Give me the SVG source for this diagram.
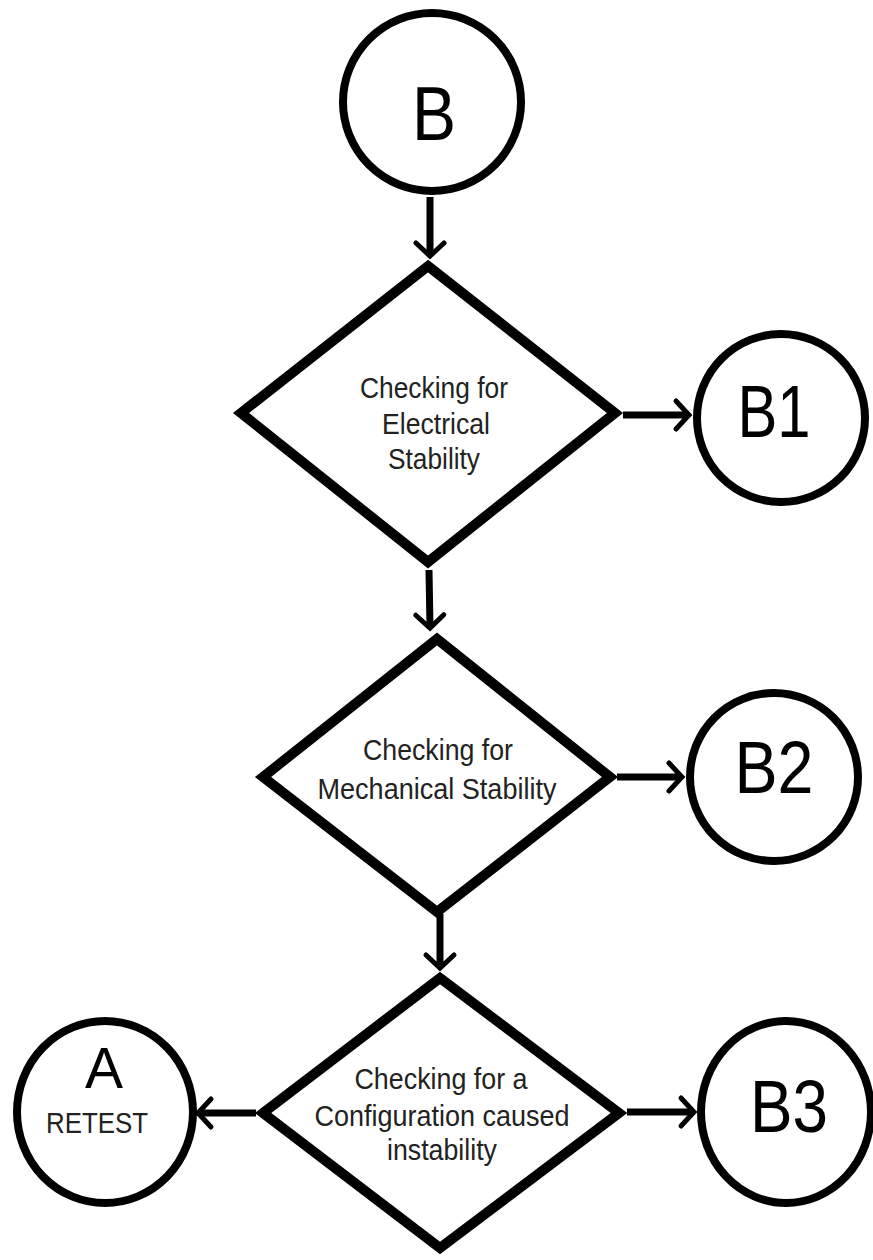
<svg xmlns="http://www.w3.org/2000/svg" width="873" height="1260" viewBox="0 0 873 1260">
  <style>
    .circ { fill: #ffffff; stroke: #000000; stroke-width: 8; }
    .dia { fill: #ffffff; stroke: #000000; stroke-width: 10; stroke-linejoin: miter; stroke-miterlimit: 10; }
    .big { font-family: "Liberation Sans", Arial, sans-serif; fill: #000000; text-anchor: middle; }
    .lbl { font-family: "Liberation Sans", Arial, sans-serif; font-size: 29px; fill: #222222; text-anchor: middle; }
    .conn { fill: none; stroke: #000000; stroke-width: 7; }
  </style>
  <defs>
    <marker id="arr" markerUnits="userSpaceOnUse" markerWidth="30" markerHeight="40" viewBox="-20 -20 30 40" refX="0" refY="0" orient="auto">
      <path d="M -13,-14 L 0,0 L -13,14" fill="none" stroke="#000000" stroke-width="5" stroke-linecap="round" stroke-linejoin="miter"/>
    </marker>
  </defs>
  <rect x="0" y="0" width="873" height="1260" fill="#ffffff"/>

  <g id="connectors">
    <line class="conn" x1="430" y1="197" x2="430" y2="256" marker-end="url(#arr)"/>
    <line class="conn" x1="429" y1="570" x2="430" y2="628" marker-end="url(#arr)"/>
    <line class="conn" x1="440" y1="914" x2="440" y2="968" marker-end="url(#arr)"/>
    <line class="conn" x1="623" y1="415" x2="689" y2="415" marker-end="url(#arr)"/>
    <line class="conn" x1="617" y1="777" x2="682" y2="777" marker-end="url(#arr)"/>
    <line class="conn" x1="627" y1="1112" x2="694" y2="1112" marker-end="url(#arr)"/>
    <line class="conn" x1="256" y1="1113" x2="198" y2="1113" marker-end="url(#arr)"/>
  </g>

  <g id="node-B">
    <circle class="circ" cx="432" cy="102" r="89"/>
    <text class="big" x="434" y="140" font-size="76" textLength="44" lengthAdjust="spacingAndGlyphs">B</text>
  </g>

  <g id="node-electrical">
    <polygon class="dia" points="428,266 615,413 428,562 241,413"/>
    <text class="lbl" x="434" y="398" textLength="148" lengthAdjust="spacingAndGlyphs">Checking for</text>
    <text class="lbl" x="436" y="434" textLength="108" lengthAdjust="spacingAndGlyphs">Electrical</text>
    <text class="lbl" x="434" y="469" textLength="92" lengthAdjust="spacingAndGlyphs">Stability</text>
  </g>

  <g id="node-B1">
    <circle class="circ" cx="781" cy="418" r="84"/>
    <text class="big" x="774" y="437" font-size="75" textLength="73" lengthAdjust="spacingAndGlyphs">B1</text>
  </g>

  <g id="node-mechanical">
    <polygon class="dia" points="437,639 610,777 437,912 263,777"/>
    <text class="lbl" x="438" y="760" textLength="150" lengthAdjust="spacingAndGlyphs">Checking for</text>
    <text class="lbl" x="437" y="799" textLength="239" lengthAdjust="spacingAndGlyphs">Mechanical Stability</text>
  </g>

  <g id="node-B2">
    <circle class="circ" cx="774" cy="777" r="84"/>
    <text class="big" x="774" y="793" font-size="75" textLength="79" lengthAdjust="spacingAndGlyphs">B2</text>
  </g>

  <g id="node-configuration">
    <polygon class="dia" points="440,978 619,1113 440,1248 263,1113"/>
    <text class="lbl" x="441" y="1089" textLength="173" lengthAdjust="spacingAndGlyphs">Checking for a</text>
    <text class="lbl" x="442" y="1126" textLength="255" lengthAdjust="spacingAndGlyphs">Configuration caused</text>
    <text class="lbl" x="442" y="1160" textLength="110" lengthAdjust="spacingAndGlyphs">instability</text>
  </g>

  <g id="node-B3">
    <ellipse class="circ" cx="786" cy="1112" rx="85" ry="91"/>
    <text class="big" x="789" y="1132" font-size="75" textLength="78" lengthAdjust="spacingAndGlyphs">B3</text>
  </g>

  <g id="node-A">
    <ellipse class="circ" cx="105" cy="1112" rx="88" ry="91"/>
    <text class="big" x="104" y="1088" font-size="57">A</text>
    <text class="lbl" x="97" y="1133" font-size="27" textLength="102" lengthAdjust="spacingAndGlyphs">RETEST</text>
  </g>
</svg>
